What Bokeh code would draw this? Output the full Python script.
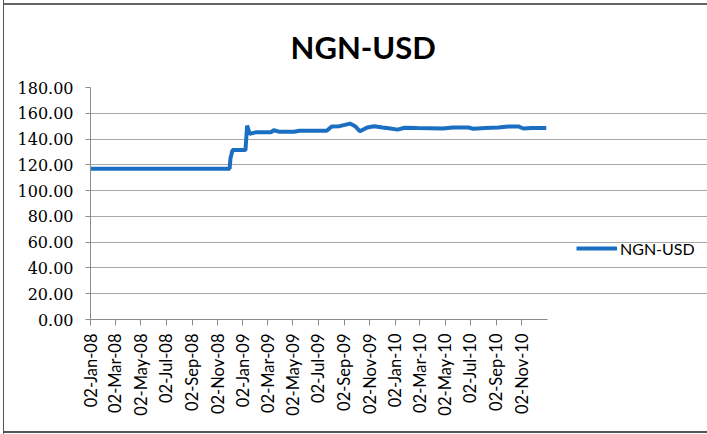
import math
import pandas as pd
from bokeh.plotting import figure
from bokeh.models import (Range1d, FixedTicker, DatetimeTickFormatter, Legend, LegendItem,
                          ColumnDataSource, NumeralTickFormatter)
from bokeh.embed import file_html
from bokeh.resources import INLINE

# ---- data ----
series_name = "NGN-USD"
dates = ["2008-01-02", "2008-12-01", "2008-12-03", "2008-12-08", "2009-01-08", "2009-01-12",
         "2009-01-18", "2009-02-01", "2009-03-10", "2009-03-17", "2009-03-29", "2009-05-05",
         "2009-05-17", "2009-07-22", "2009-08-03", "2009-08-22", "2009-09-16", "2009-09-28",
         "2009-10-10", "2009-10-27", "2009-11-13", "2009-12-03", "2009-12-22", "2010-01-08",
         "2010-01-25", "2010-02-25", "2010-04-27", "2010-05-21", "2010-06-27", "2010-07-09",
         "2010-08-07", "2010-09-07", "2010-10-01", "2010-10-25", "2010-11-06", "2010-11-25",
         "2010-12-31"]
rates = [117.0, 117.0, 125.0, 131.5, 131.5, 150.5,
         144.0, 145.2, 145.2, 147.0, 145.7, 145.7,
         146.5, 146.5, 149.8, 150.0, 152.0, 150.0,
         146.0, 149.0, 150.0, 149.0, 148.2, 147.3,
         148.8, 148.5, 148.2, 149.0, 149.0, 148.0,
         148.6, 149.0, 149.8, 149.8, 148.2, 148.6,
         148.6]
tick_dates = ["2008-01-02", "2008-03-02", "2008-05-02", "2008-07-02", "2008-09-02", "2008-11-02",
              "2009-01-02", "2009-03-02", "2009-05-02", "2009-07-02", "2009-09-02", "2009-11-02",
              "2010-01-02", "2010-03-02", "2010-05-02", "2010-07-02", "2010-09-02", "2010-11-02"]
y_ticks = [0, 20, 40, 60, 80, 100, 120, 140, 160, 180]
axis_start, axis_end = "2008-01-02", "2011-01-03"

# ---- layout (pixels) ----
W, H = 707, 434
PLOT_LEFT, PLOT_RIGHT, PLOT_TOP, PLOT_BOTTOM = 90, 547, 87, 319

t0 = pd.Timestamp(axis_start)
t1 = pd.Timestamp(axis_end)
# the frame runs to the right edge so the legend (inside it) is not clipped;
# the visible axis / grid stop at axis_end via bounds
t_right = t0 + (t1 - t0) * ((W - PLOT_LEFT) / (PLOT_RIGHT - PLOT_LEFT))

src = ColumnDataSource(dict(x=pd.to_datetime(dates), y=rates))

p = figure(width=W, height=H, output_backend="svg", toolbar_location=None,
           x_axis_type="datetime",
           x_range=Range1d(t0, t_right),
           y_range=Range1d(0, 180),
           min_border_left=PLOT_LEFT, min_border_right=0,
           min_border_top=PLOT_TOP, min_border_bottom=H - PLOT_BOTTOM,
           title="NGN-USD")

# outer chart border (left, top, bottom) drawn as inset shadows on the host element
p.border_fill_alpha = 0
p.styles = {"box-shadow": ("inset 3px 0 0 0 #ffffff, inset 4px 0 0 0 #555555, "
                           "inset 0 3px 0 0 #ffffff, inset 0 5px 0 0 #666666, "
                           "inset 0 -1px 0 0 #ffffff, inset 0 -3px 0 0 #555555")}

p.title.align = "left"
p.title.offset = 200
p.title.text_font = "Lato"
p.title.text_font_style = "bold"
p.title.text_font_size = "31px"
p.title.text_color = "#000000"
p.title.standoff = 44

p.outline_line_color = None
p.background_fill_color = "white"

r = p.line("x", "y", source=src, line_color="#1A6FC2", line_width=4)

# y axis
p.yaxis.ticker = FixedTicker(ticks=y_ticks)
p.yaxis.formatter = NumeralTickFormatter(format="0.00")
p.yaxis.major_label_text_font = "DejaVu Serif"
p.yaxis.major_label_text_font_size = "16px"
p.yaxis.major_label_text_color = "#000000"
p.yaxis.axis_line_color = "#8c8c8c"
p.yaxis.major_tick_line_color = "#8c8c8c"
p.yaxis.major_tick_out = 5
p.yaxis.major_tick_in = 0
p.yaxis.minor_tick_line_color = None
p.yaxis.major_label_standoff = 12

# x axis
tick_ms = [pd.Timestamp(d).value / 1e6 for d in tick_dates]
p.xaxis.ticker = FixedTicker(ticks=tick_ms)
p.xaxis.bounds = (t0.value / 1e6, t1.value / 1e6)
fmt = "%d-%b-%y"
p.xaxis.formatter = DatetimeTickFormatter(milliseconds=fmt, seconds=fmt, minsec=fmt, minutes=fmt,
                                          hourmin=fmt, hours=fmt, days=fmt, months=fmt, years=fmt)
p.xaxis.major_label_orientation = math.pi / 2
p.xaxis.major_label_text_font = "Lato"
p.xaxis.major_label_text_font_size = "16.5px"
p.xaxis.major_label_text_color = "#000000"
p.xaxis.axis_line_color = "#8c8c8c"
p.xaxis.major_tick_line_color = "#8c8c8c"
p.xaxis.major_tick_out = 6
p.xaxis.major_tick_in = 0
p.xaxis.minor_tick_line_color = None
p.xaxis.major_label_standoff = 8

p.xgrid.grid_line_color = None
p.ygrid.ticker = FixedTicker(ticks=y_ticks)
p.ygrid.bounds = (t0.value / 1e6, t1.value / 1e6)
p.ygrid.grid_line_color = "#a8a8a8"
p.ygrid.grid_line_width = 1

legend = Legend(items=[LegendItem(label=series_name, renderers=[r])],
                location=(576 - PLOT_LEFT, 61), border_line_color=None, background_fill_alpha=0,
                padding=0, margin=0, spacing=0,
                glyph_width=41, glyph_height=20, label_standoff=3,
                label_text_font="Lato", label_text_font_size="16px", label_text_color="#000000")
p.add_layout(legend, "center")

open("out.html", "w").write(file_html(p, INLINE))
